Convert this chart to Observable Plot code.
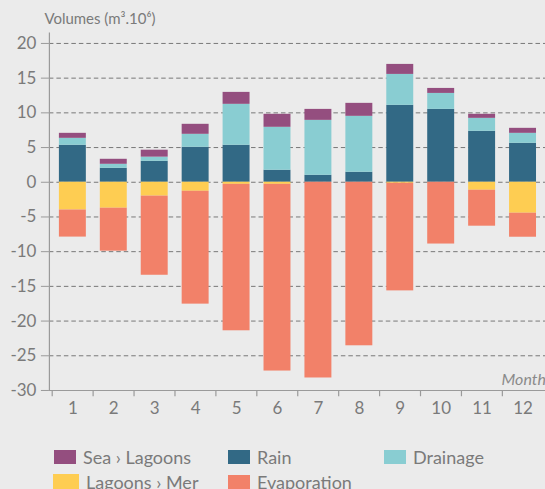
<!DOCTYPE html>
<html>
<head>
<meta charset="utf-8">
<script src="https://cdn.jsdelivr.net/npm/d3@7"></script>
<script src="https://cdn.jsdelivr.net/npm/@observablehq/plot@0.6"></script>
<style>
  html, body { margin: 0; padding: 0; background: #ebebeb; overflow: hidden; width: 545px; height: 489px; }
  #chart { position: relative; }
  .legend { position: relative; height: 57px; font-family: Lato, "Open Sans", sans-serif; font-size: 18px; color: #7a7a7a; }
  .item { position: absolute; display: flex; align-items: center; white-space: nowrap; }
  .sw { display: inline-block; width: 22px; height: 14px; margin-right: 7px; }
</style>
</head>
<body>
<div id="chart"></div>
<script>
const months = [1,2,3,4,5,6,7,8,9,10,11,12];
const seaLagoons  = [0.72, 0.72, 1.0, 1.44, 1.72, 1.87, 1.58, 1.87, 1.44, 0.72, 0.58, 0.72];
const rain        = [5.33, 2.01, 3.02, 5.04, 5.33, 1.73, 1.0, 1.44, 11.08, 10.5, 7.34, 5.61];
const drainage    = [1.0, 0.58, 0.6, 1.87, 5.9, 6.19, 7.92, 8.06, 4.46, 2.3, 1.87, 1.44];
const lagoonsMer  = [-4.0, -3.74, -2.0, -1.3, -0.3, -0.3, 0, 0, -0.15, 0, -1.15, -4.46];
const evaporation = [-3.9, -6.19, -11.4, -16.26, -21.1, -26.9, -28.2, -23.56, -15.5, -8.9, -5.18, -3.46];
const seriesNames = ["Sea › Lagoons", "Rain", "Drainage", "Lagoons › Mer", "Evaporation"];
const seriesColors = ["#944e7f", "#326985", "#89cdd2", "#fecd52", "#f28169"];
const yTicks = [-30,-25,-20,-15,-10,-5,0,5,10,15,20];

const stackOrder = ["Rain", "Drainage", "Sea › Lagoons", "Lagoons › Mer", "Evaporation"];
const seriesValues = {"Sea › Lagoons": seaLagoons, "Rain": rain, "Drainage": drainage, "Lagoons › Mer": lagoonsMer, "Evaporation": evaporation};
const data = [];
for (const s of stackOrder) months.forEach((m, i) => data.push({month: m, series: s, value: seriesValues[s][i]}));

const W = 546, H = 432, mL = 49, mR = 0, mT = 32.6, mB = 41.3;
const step = (W - mL - mR) / months.length;
const font = "Lato, 'Open Sans', sans-serif";

const chart = Plot.plot({
  width: W, height: H,
  marginLeft: mL, marginRight: mR, marginTop: mT, marginBottom: mB,
  style: {background: "#ebebeb", fontFamily: font, overflow: "visible"},
  x: {domain: months, paddingInner: 0.35, paddingOuter: 0.175, label: null},
  y: {domain: [-30, 21.5], label: null},
  color: {domain: seriesNames, range: seriesColors},
  marks: [
    Plot.ruleY(yTicks.filter(d => d > -30), {stroke: "#777", strokeDasharray: "4.5,3", strokeWidth: 1}),
    Plot.barY(data, Plot.stackY({order: stackOrder, x: "month", y: "value", fill: "series"})),
    Plot.ruleY([-30], {stroke: "#9a9a9a", strokeWidth: 1.2}),
    Plot.frame({anchor: "left", stroke: "#9a9a9a", strokeWidth: 1.2}),
    Plot.axisY(yTicks, {tickSize: 8, tickPadding: 5, fontSize: 17, color: "#7a7a7a", stroke: "#9a9a9a", tickFormat: d => String(d), label: null}),
    Plot.axisX({tickSize: 0, tickPadding: 11, fontSize: 17, color: "#7a7a7a", label: null}),
    Plot.ruleX(months, {x: d => d, dx: -step / 2, y1: -30, y2: -30.9, stroke: "#9a9a9a", strokeWidth: 1.2}),
    Plot.text(["Volumes (m³.10⁶)"], {frameAnchor: "top-left", textAnchor: "start", lineAnchor: "bottom", dx: -5, dy: -9, fontSize: 15, fill: "#7a7a7a"}),
    Plot.text(["Months"], {frameAnchor: "bottom-right", textAnchor: "start", lineAnchor: "bottom", dx: -44, dy: -5, fontSize: 16, fontStyle: "italic", fill: "#8a8a8a"})
  ]
});
document.getElementById("chart").appendChild(chart);

// legend
const legend = document.createElement("div");
legend.className = "legend";
const legendPos = {
  "Sea › Lagoons": [54, 18, 22],
  "Rain": [228, 18, 22],
  "Drainage": [384, 18, 22],
  "Lagoons › Mer": [53, 43, 26],
  "Evaporation": [228, 43, 22]
};
seriesNames.forEach((name, i) => {
  const [x, y, w] = legendPos[name];
  const it = document.createElement("div");
  it.className = "item";
  it.style.left = x + "px";
  it.style.top = (y - 3) + "px";
  const sw = document.createElement("span");
  sw.className = "sw";
  sw.style.background = seriesColors[i];
  sw.style.width = w + "px";
  if (name === "Lagoons › Mer") sw.style.height = "16px";
  const t = document.createElement("span");
  t.textContent = name;
  it.appendChild(sw); it.appendChild(t);
  legend.appendChild(it);
});
document.getElementById("chart").appendChild(legend);
</script>
</body>
</html>
